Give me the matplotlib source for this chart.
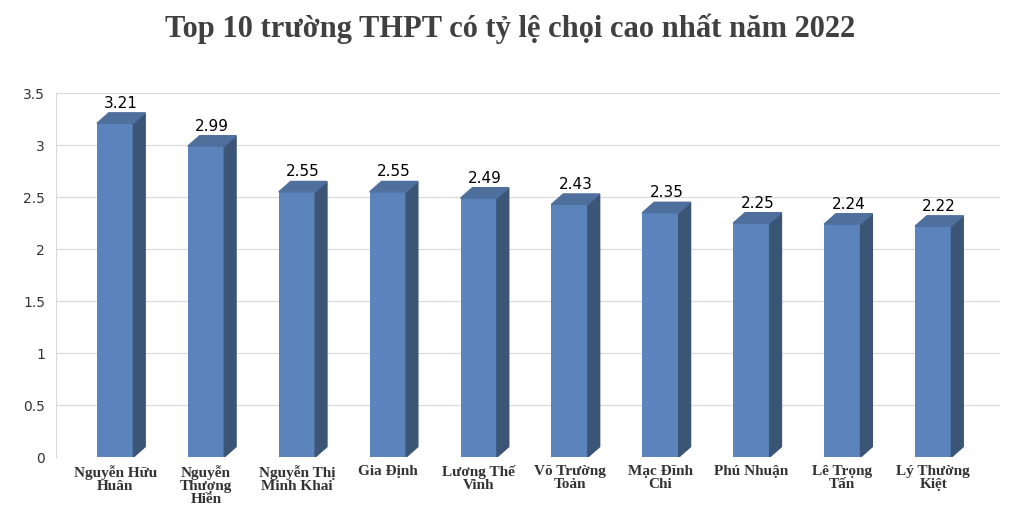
import matplotlib
matplotlib.use("Agg")
import matplotlib.pyplot as plt
from matplotlib.patches import Polygon

schools = ["Nguyễn Hữu\nHuân", "Nguyễn\nThượng\nHiền", "Nguyễn Thị\nMinh Khai", "Gia Định",
           "Lương Thế\nVinh", "Võ Trường\nToản", "Mạc Đĩnh\nChi", "Phú Nhuận",
           "Lê Trọng\nTấn", "Lý Thường\nKiệt"]
ratios = [3.21, 2.99, 2.55, 2.55, 2.49, 2.43, 2.35, 2.25, 2.24, 2.22]
yticks = [0, 0.5, 1, 1.5, 2, 2.5, 3, 3.5]

front = "#5b84bd"
side = "#3b5577"
top = "#4f6f9c"
w, dx, dy = 0.4, 0.13, 0.1

fig = plt.figure(figsize=(10.2, 5.2), dpi=100)
ax = fig.add_axes([0.055, 0.121, 0.925, 0.70])
ax.set_xlim(-0.65, 9.73)
ax.set_ylim(0, 3.5)
for t in yticks:
    ax.axhline(t, color="#d9d9d9", lw=0.8, zorder=0)

for i, v in enumerate(ratios):
    x0, x1 = i - w / 2, i + w / 2
    ax.bar(i, v, width=w, color=front, zorder=2)
    ax.add_patch(Polygon([(x1, 0), (x1 + dx, dy), (x1 + dx, v + dy), (x1, v)],
                         closed=True, color=side, zorder=2))
    ax.add_patch(Polygon([(x0, v), (x0 + dx, v + dy), (x1 + dx, v + dy), (x1, v)],
                         closed=True, color=top, zorder=2))
    ax.text(i + dx / 2, v + dy + 0.02, f"{v:.2f}", ha="center", va="bottom",
            fontsize=11, family="DejaVu Sans")

ax.set_xticks(range(len(schools)))
ax.set_xticklabels(schools, fontsize=11, family="Liberation Serif", fontweight="bold",
                   color="#333333", va="top", linespacing=1.0)
ax.set_yticks(yticks)
ax.set_yticklabels([f"{t:g}" for t in yticks], fontsize=10, color="#333333")
ax.tick_params(length=0, pad=8)
ax.tick_params(axis="x", pad=6)
for s in ["top", "right", "bottom"]:
    ax.spines[s].set_visible(False)
ax.spines["left"].set_color("#d9d9d9")

fig.text(0.5, 0.945, "Top 10 trường THPT có tỷ lệ chọi cao nhất năm 2022", ha="center",
         va="center", fontsize=22, fontweight="bold", family="Liberation Serif", color="#404040")
fig.savefig("out.png")
